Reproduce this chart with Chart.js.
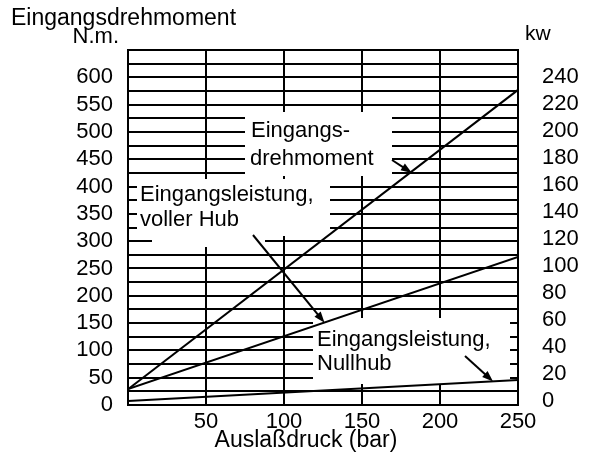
<!DOCTYPE html>
<html>
<head>
<meta charset="utf-8">
<script src="https://cdn.jsdelivr.net/npm/chart.js@4/dist/chart.umd.min.js"></script>
<style>
  html, body { margin: 0; padding: 0; background: #fff; }
</style>
</head>
<body>
<canvas id="chart" width="597" height="460"></canvas>
<script>
// Auslaßdruck (bar)
const pressure = [0, 250];
// Eingangsdrehmoment (N.m.)
const torque = [29, 577];
// Eingangsleistung, voller Hub (kW)
const powerFull = [8.9, 106.6];
// Eingangsleistung, Nullhub (kW)
const powerZero = [0, 15.5];

const pressureTicks = [50, 100, 150, 200, 250];
const torqueTicks = [0, 50, 100, 150, 200, 250, 300, 350, 400, 450, 500, 550, 600];
const torqueGrid = [0, 25, 50, 75, 100, 125, 150, 175, 200, 225, 250, 275, 300, 325,
  350, 375, 400, 425, 450, 475, 500, 525, 550, 575, 600, 625, 650];
const powerTicks = [0, 20, 40, 60, 80, 100, 120, 140, 160, 180, 200, 220, 240];

const FONT = '"Liberation Sans", Arial, sans-serif';

function toPoints(ys) {
  return pressure.map((p, i) => ({ x: p, y: ys[i] }));
}

function setTicks(values) {
  return scale => { scale.ticks = values.map(v => ({ value: v })); };
}

// white label boxes that hide the grid behind the notes
const labelBoxes = [
  [245, 112, 392, 176],
  [137, 179, 330, 236],
  [152, 236, 265, 247],
  [313, 318, 510, 384]
];

const notes = [
  { text: 'Eingangsdrehmoment', x: 11, y: 25, size: 23 },
  { text: 'N.m.', x: 119, y: 43, size: 22, align: 'right' },
  { text: 'kw', x: 525, y: 40, size: 21 },
  { text: 'Auslaßdruck (bar)', x: 306, y: 447, size: 23, align: 'center' },
  { text: 'Eingangs-', x: 251, y: 137, size: 22 },
  { text: 'drehmoment', x: 250, y: 165, size: 22 },
  { text: 'Eingangsleistung,', x: 140, y: 201, size: 22 },
  { text: 'voller Hub', x: 140, y: 226, size: 22 },
  { text: 'Eingangsleistung,', x: 317, y: 346, size: 22 },
  { text: 'Nullhub', x: 317, y: 370, size: 22 }
];

// arrows: tail in pixels, tip on the curve in data units
const arrows = [
  { from: [392, 160], to: { x: 182, y: 425, axis: 'y' } },
  { from: [253, 235], to: { x: 126, y: 58, axis: 'y1' } },
  { from: [465, 356], to: { x: 234, y: 14.5, axis: 'y1' } }
];

function drawArrow(ctx, x1, y1, x2, y2) {
  const a = Math.atan2(y2 - y1, x2 - x1);
  const len = 11, half = 4;
  ctx.beginPath();
  ctx.moveTo(x1, y1);
  ctx.lineTo(x2 - Math.cos(a) * len * 0.6, y2 - Math.sin(a) * len * 0.6);
  ctx.stroke();
  ctx.beginPath();
  ctx.moveTo(x2, y2);
  ctx.lineTo(x2 - Math.cos(a) * len - Math.sin(a) * half, y2 - Math.sin(a) * len + Math.cos(a) * half);
  ctx.lineTo(x2 - Math.cos(a) * len + Math.sin(a) * half, y2 - Math.sin(a) * len - Math.cos(a) * half);
  ctx.closePath();
  ctx.fill();
}

const overlay = {
  id: 'overlay',
  beforeDatasetsDraw(chart) {
    const ctx = chart.ctx;
    ctx.save();
    ctx.fillStyle = '#fff';
    labelBoxes.forEach(b => ctx.fillRect(b[0], b[1], b[2] - b[0], b[3] - b[1]));
    ctx.restore();
  },
  afterDatasetsDraw(chart) {
    const ctx = chart.ctx;
    ctx.save();
    ctx.fillStyle = '#000';
    ctx.strokeStyle = '#000';
    ctx.lineWidth = 2;
    ctx.textBaseline = 'alphabetic';
    notes.forEach(n => {
      ctx.font = n.size + 'px ' + FONT;
      ctx.textAlign = n.align || 'left';
      ctx.fillText(n.text, n.x, n.y);
    });
    arrows.forEach(a => {
      const tx = chart.scales.x.getPixelForValue(a.to.x);
      const ty = chart.scales[a.to.axis].getPixelForValue(a.to.y);
      drawArrow(ctx, a.from[0], a.from[1], tx, ty);
    });
    ctx.restore();
  }
};

const lineStyle = {
  showLine: true,
  borderColor: '#000',
  borderWidth: 2,
  pointRadius: 0,
  fill: false
};

new Chart(document.getElementById('chart'), {
  type: 'scatter',
  data: {
    datasets: [
      { ...lineStyle, label: 'Eingangsdrehmoment', data: toPoints(torque), yAxisID: 'y' },
      { ...lineStyle, label: 'Eingangsleistung, voller Hub', data: toPoints(powerFull), yAxisID: 'y1' },
      { ...lineStyle, label: 'Eingangsleistung, Nullhub', data: toPoints(powerZero), yAxisID: 'y1' }
    ]
  },
  options: {
    responsive: false,
    animation: false,
    devicePixelRatio: 1,
    layout: { padding: { top: 50, left: 0, right: 0, bottom: 0 } },
    plugins: {
      legend: { display: false },
      tooltip: { enabled: false }
    },
    scales: {
      x: {
        type: 'linear',
        position: 'bottom',
        min: 0,
        max: 250,
        afterBuildTicks: setTicks(pressureTicks),
        afterFit: s => { s.height = 55; },
        grid: { color: '#000', lineWidth: 2, drawTicks: false },
        border: { display: true, color: '#000', width: 2 },
        ticks: {
          color: '#000',
          font: { family: FONT, size: 22 },
          padding: 4,
          maxRotation: 0,
          autoSkip: false
        }
      },
      y: {
        type: 'linear',
        position: 'left',
        min: 0,
        max: 650,
        afterBuildTicks: setTicks(torqueGrid),
        afterFit: s => { s.width = 128; },
        grid: { color: '#000', lineWidth: 2, drawTicks: false },
        border: { display: true, color: '#000', width: 2 },
        ticks: {
          color: '#000',
          font: { family: FONT, size: 22 },
          padding: 15,
          autoSkip: false,
          callback: v => torqueTicks.includes(v) ? String(v) : ''
        }
      },
      y1: {
        type: 'linear',
        position: 'right',
        min: -3,
        max: 260,
        afterBuildTicks: setTicks(powerTicks),
        afterFit: s => { s.width = 79; },
        grid: { display: false, drawTicks: false },
        border: { display: true, color: '#000', width: 2 },
        ticks: {
          color: '#000',
          font: { family: FONT, size: 22 },
          padding: 24,
          autoSkip: false
        }
      }
    }
  },
  plugins: [overlay]
});
</script>
</body>
</html>
